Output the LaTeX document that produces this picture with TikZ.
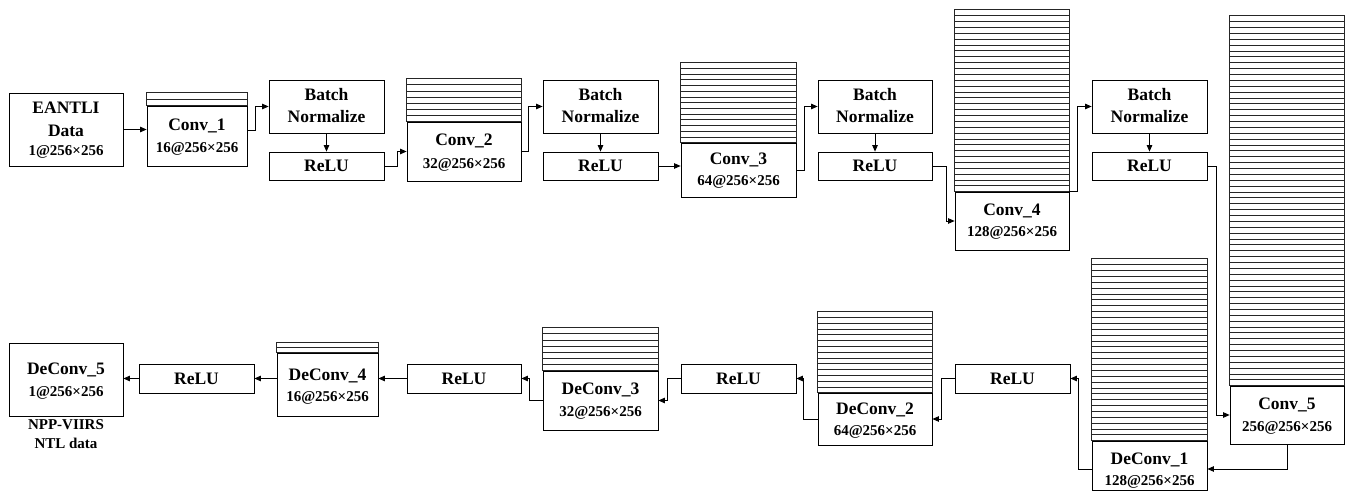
\documentclass[tikz,border=0pt]{standalone}
\usepackage{fontspec}
\setmainfont{Liberation Serif}
\usetikzlibrary{arrows.meta,fit,calc}
\newcommand\mystripes[3]{% node, height above, count
  \draw[stripe] ($(#1.north west)+(0,-#2)$) rectangle (#1.north east);
  \pgfmathsetmacro\hh{#2/#3}
  \foreach \i in {1,...,#3}{
    \draw[stripe] ($(#1.north west)+(0,-\i*\hh)$) -- ($(#1.north east)+(0,-\i*\hh)$);
  }
}
\begin{document}
\begin{tikzpicture}[x=1pt,y=-1pt,
  box/.style={draw=black, line width=0.8pt, inner sep=0pt, fill=white},
  lg/.style={font=\fontsize{17.5}{20}\selectfont\bfseries, inner sep=0pt, anchor=base},
  sm/.style={font=\fontsize{15}{18}\selectfont\bfseries, inner sep=0pt, anchor=base},
  stripe/.style={draw=black!85, line width=0.5pt},
  arr/.style={line width=0.8pt, -{Triangle[length=6.5pt,width=5.5pt]}},
]
\useasboundingbox[fill=white] (0,0) rectangle (1351,502);

% ---------- top row ----------
\node[box, fit={(9,93)(123,166)}] (in) {};
\node[box, fit={(147,106)(247,166)}] (c1) {};
\node[box, fit={(269,80)(384,133)}] (bn1) {};
\node[box, fit={(269,152)(384,180)}] (r1) {};
\node[box, fit={(407,122)(521,181)}] (c2) {};
\node[box, fit={(543,80)(658,133)}] (bn2) {};
\node[box, fit={(543,152)(658,180)}] (r2) {};
\node[box, fit={(681,143)(796,197)}] (c3) {};
\node[box, fit={(818,80)(932,133)}] (bn3) {};
\node[box, fit={(818,152)(932,180)}] (r3) {};
\node[box, fit={(955,192)(1069,250)}] (c4) {};
\node[box, fit={(1092,80)(1207,133)}] (bn4) {};
\node[box, fit={(1092,152)(1207,180)}] (r4) {};
\node[box, fit={(1230,386)(1344,444)}] (c5) {};

% ---------- bottom row ----------
\node[box, fit={(1092,441)(1207,490)}] (d1) {};
\node[box, fit={(955,364)(1070,393)}] (rb1) {};
\node[box, fit={(818,393)(932,445)}] (d2) {};
\node[box, fit={(681,364)(796,393)}] (rb2) {};
\node[box, fit={(543,371)(658,430)}] (d3) {};
\node[box, fit={(407,364)(521,393)}] (rb3) {};
\node[box, fit={(277,353)(378,416)}] (d4) {};
\node[box, fit={(139,364)(254,393)}] (rb4) {};
\node[box, fit={(9,343)(123,416)}] (out) {};

% ---------- stripes ----------
\mystripes{c1}{13}{2}
\mystripes{c2}{43}{7}
\mystripes{c3}{80}{14}
\mystripes{c4}{182}{31}
\mystripes{c5}{370}{63}
\mystripes{d1}{182}{31}
\mystripes{d2}{81}{14}
\mystripes{d3}{43}{7}
\mystripes{d4}{10}{2}

% ---------- texts ----------
\node[lg] (tin1) at (66,113.8) {EANTLI};
\node[lg] (tin2) at (66,136.8) {Data};
\node[sm] (tin3) at (66,156) {1@256×256};
\node[lg] (tc1a) at (197,130.8) {Conv\_1};
\node[sm] (tc1b) at (197,153) {16@256×256};
\node[lg] (tbn1a) at (326.5,100.8) {Batch};
\node[lg] (tbn1b) at (326.5,122.8) {Normalize};
\node[lg] (tr1) at (326.5,171.8) {ReLU};
\node[lg] (tc2a) at (464,145.8) {Conv\_2};
\node[sm] (tc2b) at (464,169) {32@256×256};
\node[lg] (tbn2a) at (600.5,100.8) {Batch};
\node[lg] (tbn2b) at (600.5,122.8) {Normalize};
\node[lg] (tr2) at (600.5,171.8) {ReLU};
\node[lg] (tc3a) at (738.5,164.8) {Conv\_3};
\node[sm] (tc3b) at (738.5,186) {64@256×256};
\node[lg] (tbn3a) at (875,100.8) {Batch};
\node[lg] (tbn3b) at (875,122.8) {Normalize};
\node[lg] (tr3) at (875,171.8) {ReLU};
\node[lg] (tc4a) at (1012,215.8) {Conv\_4};
\node[sm] (tc4b) at (1012,237) {128@256×256};
\node[lg] (tbn4a) at (1149.5,100.8) {Batch};
\node[lg] (tbn4b) at (1149.5,122.8) {Normalize};
\node[lg] (tr4) at (1149.5,171.8) {ReLU};
\node[lg] (tc5a) at (1287,409.8) {Conv\_5};
\node[sm] (tc5b) at (1287,431) {256@256×256};

\node[lg] (td1a) at (1149.5,464.8) {DeConv\_1};
\node[sm] (td1b) at (1149.5,485) {128@256×256};
\node[lg] (trb1) at (1012.5,384.8) {ReLU};
\node[lg] (td2a) at (875,414.8) {DeConv\_2};
\node[sm] (td2b) at (875,435) {64@256×256};
\node[lg] (trb2) at (738.5,384.8) {ReLU};
\node[lg] (td3a) at (600.5,394.8) {DeConv\_3};
\node[sm] (td3b) at (600.5,416) {32@256×256};
\node[lg] (trb3) at (464,384.8) {ReLU};
\node[lg] (td4a) at (327.5,380.8) {DeConv\_4};
\node[sm] (td4b) at (327.5,401) {16@256×256};
\node[lg] (trb4) at (196.5,384.8) {ReLU};
\node[lg] (tout1) at (66,374.8) {DeConv\_5};
\node[sm] (tout2) at (66,396) {1@256×256};
\node[sm] (tout3) at (66,429) {NPP-VIIRS};
\node[sm] (tout4) at (66,448) {NTL data};

% ---------- connectors ----------
\draw[arr] (in.east) -- (in.east -| c1.west);
\draw[arr] ([yshift=6pt]c1.east) -- ++(8,0) |- (bn1.west);
\draw[arr] (bn1.south) -- (r1.north);
\draw[arr] (r1.east) -- ++(13,0) |- (c2.west);
\draw[arr] (c2.east) -- ++(7,0) |- (bn2.west);
\draw[arr] (bn2.south) -- (r2.north);
\draw[arr] (r2.east) -- (r2.east -| c3.west);
\draw[arr] (c3.east) -- ++(8,0) |- (bn3.west);
\draw[arr] (bn3.south) -- (r3.north);
\draw[arr] (r3.east) -- ++(14,0) |- (c4.west);
\draw[arr] (c4.north east) -- ++(8,0) |- (bn4.west);
\draw[arr] (bn4.south) -- (r4.north);
\draw[arr] (r4.east) -- ++(9,0) |- (c5.west);
\draw[arr] (c5.south) |- ([yshift=-3.5pt]d1.east);
\draw[arr] ([yshift=-3.5pt]d1.west) -- ++(-13,0) |- (rb1.east);
\draw[arr] (rb1.west) -- ++(-13,0) |- (d2.east);
\draw[arr] (d2.west) -- ++(-14,0) |- (rb2.east);
\draw[arr] (rb2.west) -- ++(-13,0) |- (d3.east);
\draw[arr] (d3.west) -- ++(-13,0) |- (rb3.east);
\draw[arr] (rb3.west) -- (rb3.west -| d4.east);
\draw[arr] (rb4.east -| d4.west) -- (rb4.east);
\draw[arr] (rb4.west) -- (rb4.west -| out.east);
\end{tikzpicture}
\end{document}
